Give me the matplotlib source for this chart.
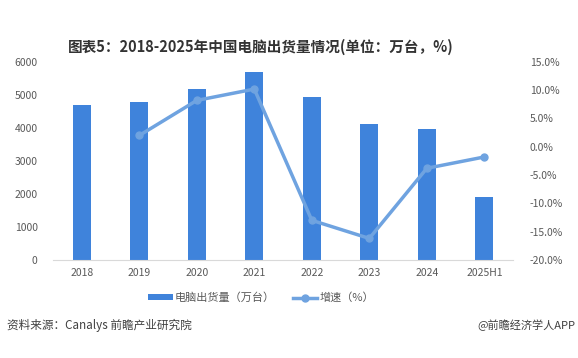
import matplotlib.pyplot as plt
from matplotlib.ticker import FuncFormatter

plt.rcParams['font.family'] = ['Noto Sans CJK SC', 'DejaVu Sans']

years = ['2018', '2019', '2020', '2021', '2022', '2023', '2024', '2025H1']
shipments = [4700, 4790, 5180, 5700, 4940, 4120, 3970, 1920]
growth = [None, 2.0, 8.2, 10.2, -13.0, -16.2, -3.8, -1.8]

bar_c = '#3F83DB'
line_c = '#6FA3E0'
tick_c = '#595959'

fig = plt.figure(figsize=(5.78, 3.58), dpi=100)
ax = fig.add_axes([0.0917, 0.274, 0.796, 0.553])
x = list(range(len(years)))
ax.bar(x, shipments, width=0.31, color=bar_c, label='电脑出货量（万台）', zorder=2)
ax.set_xlim(-0.5, 7.5)
ax.set_ylim(0, 6000)
ax.set_yticks(range(0, 6001, 1000))
ax.set_xticks(x)
ax.set_xticklabels(years)
for s in ['top', 'right', 'left']:
    ax.spines[s].set_visible(False)
ax.spines['bottom'].set_color('#D9D9D9')
ax.tick_params(axis='both', length=0, labelsize=7.5, colors=tick_c)
ax.tick_params(axis='x', pad=6)
ax.tick_params(axis='y', pad=11)

ax2 = ax.twinx()
gx = [i for i, g in zip(x, growth) if g is not None]
gy = [g for g in growth if g is not None]
ax2.plot(gx, gy, color=line_c, lw=2.5, marker='o', ms=5, label='增速（%）', zorder=3)
ax2.set_ylim(-20, 15)
ax2.set_yticks(range(-20, 16, 5))
ax2.yaxis.set_major_formatter(FuncFormatter(lambda v, p: f'{v:.1f}%'))
for s in ax2.spines.values():
    s.set_visible(False)
ax2.tick_params(axis='y', length=0, labelsize=7.5, colors=tick_c, pad=12)

h1, l1 = ax.get_legend_handles_labels()
h2, l2 = ax2.get_legend_handles_labels()
fig.legend(h1 + h2, l1 + l2, loc='center', bbox_to_anchor=(0.452, 0.168), ncol=2,
           frameon=False, fontsize=8, handlelength=2.2, handleheight=0.5,
           columnspacing=1.6, handletextpad=0.2, labelcolor=tick_c)

fig.text(0.452, 0.868, '图表5：2018-2025年中国电脑出货量情况(单位：万台，%)', ha='center', va='center',
         fontsize=10.5, fontweight='bold', color='#333333')
fig.text(0.012, 0.092, '资料来源：Canalys 前瞻产业研究院', ha='left', va='center',
         fontsize=8.4, color='#404040')
fig.text(0.995, 0.092, '@前瞻经济学人APP', ha='right', va='center',
         fontsize=8, color='#404040')

fig.savefig('out.png', dpi=100)
